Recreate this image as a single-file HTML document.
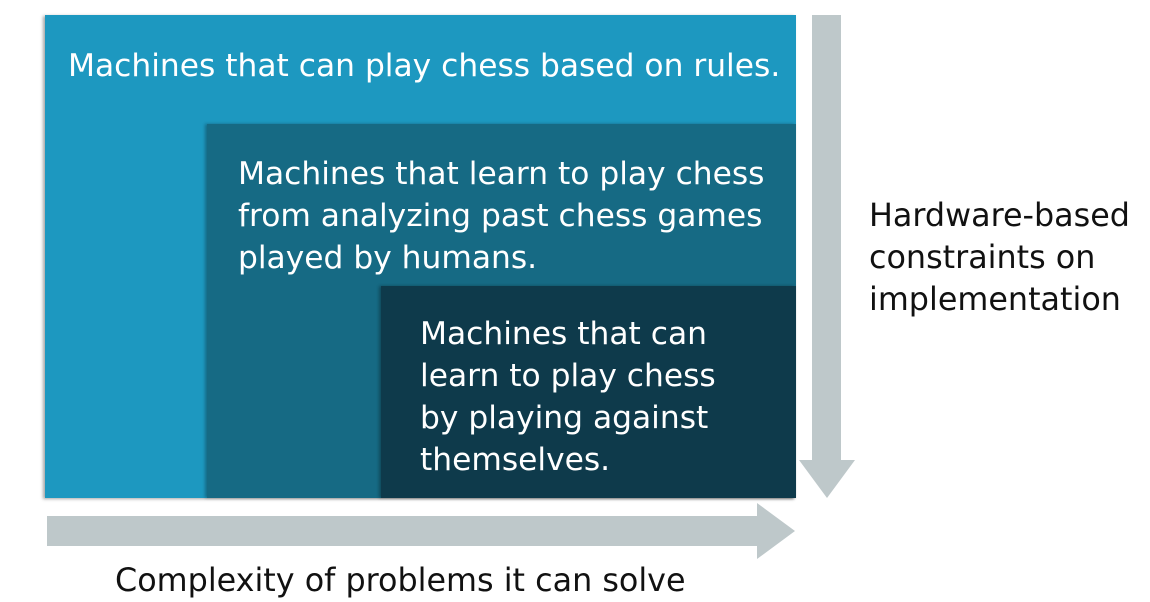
<!DOCTYPE html>
<html><head><meta charset="utf-8"><style>
body{margin:0;width:1150px;height:600px;background:#fff;position:relative;overflow:hidden;font-family:"DejaVu Sans","Liberation Sans",sans-serif}
.b{position:absolute}
.t{position:absolute;color:#fff;font-size:31.3px;line-height:42px;white-space:nowrap}
.k{color:#111;font-size:31.8px}
</style></head><body>
<div class="b" style="left:45px;top:15px;width:751px;height:483px;background:#1d98c0;box-shadow:-2px 1px 3px rgba(0,0,0,.35)"></div>
<div class="b" style="left:207px;top:124px;width:589px;height:374px;background:#166a84;box-shadow:-2px 0 3px rgba(0,0,0,.3)"></div>
<div class="b" style="left:381px;top:286px;width:415px;height:212px;background:#0e3a4b;box-shadow:-2px 0 3px rgba(0,0,0,.3)"></div>
<div class="t" style="left:68px;top:45px">Machines that can play chess based on rules.</div>
<div class="t" style="left:238px;top:153px">Machines that learn to play chess<br>from analyzing past chess games<br>played by humans.</div>
<div class="t" style="left:420px;top:313px">Machines that can<br>learn to play chess<br>by playing against<br>themselves.</div>
<div class="t k" style="left:869px;top:195px">Hardware-based<br>constraints on<br>implementation</div>
<div class="t k" style="left:115px;top:560px">Complexity of problems it can solve</div>
<svg class="b" style="left:0;top:0" width="1150" height="600">
<polygon fill="#bec8ca" points="812,15 841,15 841,460 855,460 827,498 799,460 812,460"/>
<polygon fill="#bec8ca" points="47,516 757,516 757,503 795,531 757,559 757,546 47,546"/>
</svg>
</body></html>
